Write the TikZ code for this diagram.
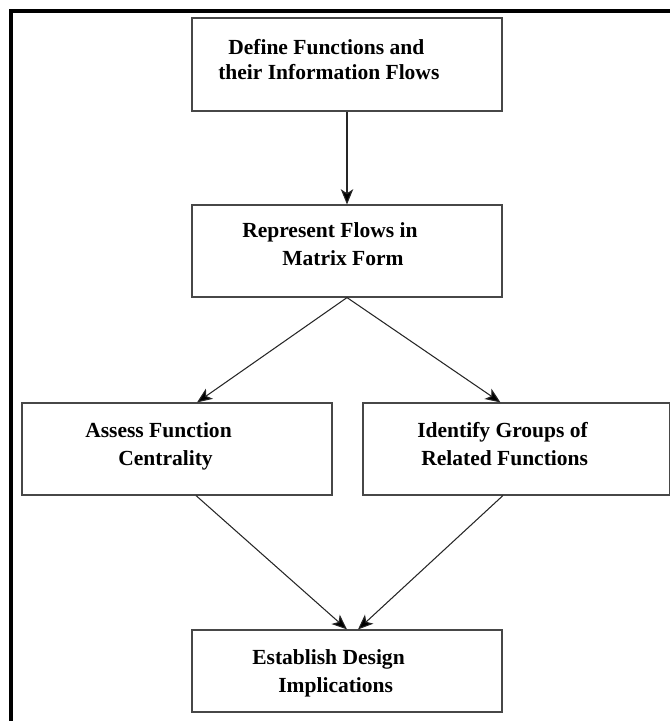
\documentclass[tikz,border=0pt]{standalone}
\usepackage{fontspec}
\setmainfont{Liberation Serif}
\usetikzlibrary{arrows.meta}
\tikzset{
  stage/.style={draw=black!72, line width=0.8pt, fill=white, inner sep=0pt,
    minimum width=7.75cm, minimum height=2.3cm},
  caption/.style={anchor=north west, inner sep=0pt, align=left,
    font=\fontsize{15.3}{20}\selectfont\bfseries},
  edge/.style={line width=0.75pt, draw=black!85,
    -{Stealth[length=3.8mm, width=3.1mm, inset=1mm, fill=black]}},
  frame/.style={line width=2.2pt, line cap=rect}
}

\begin{document}
\begin{tikzpicture}[x=0.025cm,y=-0.025cm]
\path[use as bounding box] (0,0) rectangle (669,721);
\draw[frame] (11,721) -- (11,11) -- (669,11);

\node[stage, minimum height=2.325cm] (define) at (347,64.5) {};
\node[stage] (represent) at (347,251) {};
\node[stage] (assess) at (177,449) {};
\node[stage, minimum width=7.675cm] (identify) at (516.5,449) {};
\node[stage, minimum height=2.05cm] (establish) at (347,671) {};

\node[caption] (define-txt) at (218,39) {\hspace*{0.25cm}Define Functions and\\[-2pt]their Information Flows};
\node[caption] (represent-txt) at (242,222) {Represent Flows in\\\hspace*{1cm}Matrix Form};
\node[caption] (assess-txt) at (85,422) {Assess Function\\\hspace*{0.825cm}Centrality};
\node[caption] (identify-txt) at (417,422) {Identify Groups of\\\hspace*{0.1cm}Related Functions};
\node[caption] (establish-txt) at (252,649) {Establish Design\\\hspace*{0.65cm}Implications};

\draw[edge] (define) -- (represent);
\draw[edge] (represent.south) -- ([xshift=0.5cm]assess.north);
\draw[edge] (represent.south) -- ([xshift=-0.4cm]identify.north);
\draw[edge] ([xshift=0.475cm]assess.south) -- (establish.north);
\draw[edge] ([xshift=-0.34cm]identify.south) -- ([xshift=0.275cm]establish.north);
\end{tikzpicture}
\end{document}
